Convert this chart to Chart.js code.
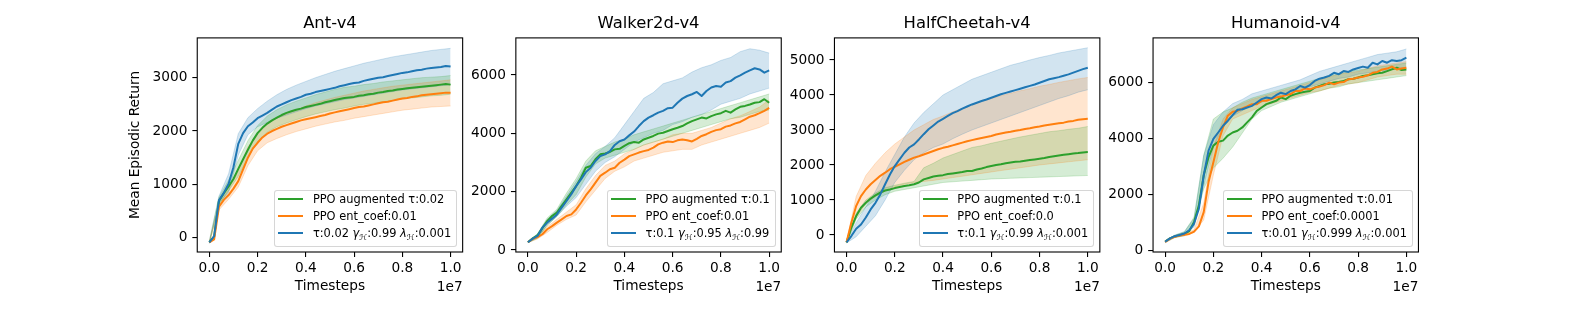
<!DOCTYPE html>
<html><head><meta charset="utf-8">
<script src="https://cdn.jsdelivr.net/npm/chart.js@4.4.0/dist/chart.umd.min.js"></script>
<style>
html,body{margin:0;padding:0;background:#fff;}
#wrap{position:relative;width:1578px;height:316px;overflow:hidden;background:#fff;}
canvas.cv{position:absolute;left:0;top:0;}
.legend{position:absolute;font-family:"DejaVu Sans",sans-serif;font-size:11.4px;color:#000;background:rgba(255,255,255,0.8);border:1px solid rgba(204,204,204,0.8);border-radius:3px;padding:0 5px 4.3px 3.3px;white-space:nowrap;}
.row{display:flex;align-items:center;height:16.8px;}
.hd{width:25px;height:2px;margin-right:9.4px;flex:none;}
.sub{font-size:8px;position:relative;top:3px;}
</style></head><body><div id="wrap"></div><script>
// ---------- DATA ----------
const titles = ['Ant-v4', 'Walker2d-v4', 'HalfCheetah-v4', 'Humanoid-v4'];
const xTitle = 'Timesteps';
const yTitle = 'Mean Episodic Return';
const xOffsetLabel = '1e7';
const xTickValues = [0, 0.2, 0.4, 0.6, 0.8, 1.0];
const xTickLabels = ['0.0', '0.2', '0.4', '0.6', '0.8', '1.0'];
const steps = [0,0.02,0.04,0.06,0.08,0.1,0.12,0.14,0.16,0.18,0.2,0.22,0.24,0.26,0.28,0.3,0.32,0.34,0.36,0.38,0.4,0.42,0.44,0.46,0.48,0.5,0.52,0.54,0.56,0.58,0.6,0.62,0.64,0.66,0.68,0.7,0.72,0.74,0.76,0.78,0.8,0.82,0.84,0.86,0.88,0.9,0.92,0.94,0.96,0.98,1];
const bandSteps = [0,0.04,0.08,0.12,0.16,0.2,0.24,0.28,0.32,0.36,0.4,0.44,0.48,0.52,0.56,0.6,0.64,0.68,0.72,0.76,0.8,0.84,0.88,0.92,0.96,1];

// Ant-v4
const antYTicks = [0, 1000, 2000, 3000];
const antLabels = ['PPO augmented τ:0.02', 'PPO ent_coef:0.01', 'τ:0.02 γ_ℋ:0.99 λ_ℋ:0.001'];
const antGreen = [-86,20,690,830,960,1100,1290,1470,1650,1820,1960,2060,2140,2200,2250,2300,2340,2370,2400,2420,2450,2470,2490,2510,2540,2560,2580,2600,2620,2630,2640,2660,2670,2690,2700,2720,2730,2750,2760,2780,2790,2800,2810,2820,2830,2840,2850,2860,2870,2880,2870];
const antOrange = [-86,-30,580,710,800,920,1060,1280,1500,1670,1780,1880,1950,2000,2040,2080,2110,2140,2170,2200,2220,2240,2260,2280,2300,2330,2350,2370,2390,2410,2430,2450,2460,2480,2500,2520,2540,2550,2570,2590,2610,2620,2640,2650,2670,2680,2690,2700,2710,2720,2720];
const antBlue = [-86,30,700,840,1010,1320,1760,1960,2090,2160,2240,2290,2340,2400,2460,2500,2540,2580,2610,2640,2680,2700,2730,2750,2770,2790,2810,2840,2860,2880,2900,2910,2940,2960,2980,3000,3010,3030,3050,3070,3090,3100,3120,3140,3150,3170,3180,3190,3200,3220,3210];
const antGreenLo = [-100,620,880,1150,1500,1800,1980,2080,2150,2210,2270,2320,2360,2400,2430,2470,2500,2520,2550,2570,2600,2620,2640,2660,2670,2690];
const antGreenHi = [-70,760,1080,1450,1820,2100,2280,2400,2490,2560,2620,2680,2730,2780,2820,2840,2870,2890,2920,2940,2960,2980,3000,3010,3020,3040];
const antOrangeLo = [-100,520,720,950,1350,1630,1780,1860,1930,1990,2040,2090,2130,2170,2200,2240,2270,2300,2330,2360,2390,2410,2430,2450,2460,2470];
const antOrangeHi = [-70,650,900,1250,1700,1950,2130,2240,2320,2400,2470,2530,2580,2630,2670,2710,2750,2780,2810,2840,2860,2880,2900,2920,2940,2960];
const antBlueLo = [-110,640,850,1550,1930,2080,2160,2240,2300,2360,2420,2470,2510,2550,2590,2620,2650,2680,2710,2740,2770,2790,2810,2830,2850,2870];
const antBlueHi = [-60,780,1200,1950,2250,2420,2560,2680,2780,2860,2930,3000,3060,3120,3170,3220,3270,3310,3350,3390,3420,3450,3480,3510,3530,3550];

// Walker2d-v4
const walkerYTicks = [0, 2000, 4000, 6000];
const walkerLabels = ['PPO augmented τ:0.1', 'PPO ent_coef:0.01', 'τ:0.1 γ_ℋ:0.95 λ_ℋ:0.99'];
const walkerGreen = [265,400,500,750,990,1165,1280,1510,1740,1970,2190,2480,2820,2880,3110,3280,3310,3360,3450,3470,3570,3660,3700,3680,3790,3850,3910,3990,4020,4080,4140,4190,4250,4340,4420,4480,4540,4510,4590,4650,4690,4770,4710,4820,4910,4940,4990,5050,5070,5170,5050];
const walkerOrange = [265,380,440,540,710,820,940,1050,1165,1220,1390,1620,1870,2080,2310,2540,2650,2770,2820,2990,3100,3220,3280,3340,3390,3430,3510,3620,3680,3720,3700,3760,3790,3760,3720,3810,3910,3970,4050,4110,4140,4230,4270,4340,4390,4480,4570,4620,4690,4770,4870];
const walkerBlue = [265,390,480,765,940,1075,1220,1450,1680,1910,2190,2420,2670,2820,3050,3220,3280,3390,3600,3730,3790,3930,4060,4250,4420,4540,4620,4710,4770,4860,4880,5050,5190,5280,5340,5420,5280,5450,5570,5620,5600,5740,5790,5910,5990,6080,6160,6230,6190,6080,6160];
const walkerGreenLo = [250,400,850,1150,1550,1900,2500,2950,3150,3250,3350,3450,3600,3700,3800,3900,4000,4100,4200,4300,4400,4500,4550,4650,4750,4800];
const walkerGreenHi = [280,560,1100,1400,1950,2450,3050,3400,3550,3700,3800,3950,4050,4150,4250,4350,4450,4550,4650,4750,4850,4950,5050,5150,5250,5350];
const walkerOrangeLo = [250,380,600,850,1050,1200,1650,2050,2450,2700,2850,3050,3150,3250,3350,3400,3450,3450,3600,3700,3800,3900,4000,4100,4200,4350];
const walkerOrangeHi = [280,500,800,1050,1300,1550,2100,2550,2900,3050,3300,3450,3600,3700,3800,3950,4000,4000,4100,4200,4350,4500,4600,4750,4900,5150];
const walkerBlueLo = [250,420,850,1150,1500,1800,2250,2700,3000,3200,3450,3700,3850,4000,4100,4300,4400,4550,4650,4800,5000,5100,5200,5350,5450,5550];
const walkerBlueHi = [280,560,1050,1350,1850,2350,2900,3300,3550,3850,4300,4750,5200,5400,5700,5800,5900,6100,6250,6350,6500,6600,6800,6900,6850,6750];

// HalfCheetah-v4
const cheetahYTicks = [0, 1000, 2000, 3000, 4000, 5000];
const cheetahLabels = ['PPO augmented τ:0.1', 'PPO ent_coef:0.0', 'τ:0.1 γ_ℋ:0.99 λ_ℋ:0.001'];
const cheetahGreen = [-210,210,540,780,920,1040,1130,1210,1270,1300,1340,1370,1400,1420,1450,1500,1590,1630,1670,1690,1710,1740,1760,1780,1800,1830,1830,1870,1900,1940,1970,2000,2020,2050,2070,2090,2100,2120,2140,2160,2180,2200,2230,2250,2270,2290,2310,2330,2340,2360,2370];
const cheetahOrange = [-210,350,830,1110,1300,1450,1570,1690,1780,1880,1950,2020,2090,2150,2210,2250,2300,2350,2400,2450,2490,2520,2560,2600,2640,2680,2710,2740,2770,2800,2830,2870,2900,2930,2950,2980,3000,3030,3050,3080,3100,3130,3150,3170,3190,3210,3240,3260,3290,3310,3320];
const cheetahBlue = [-210,-30,180,300,500,730,920,1160,1450,1730,1970,2160,2350,2500,2590,2730,2880,3020,3130,3240,3320,3400,3480,3540,3610,3670,3730,3780,3830,3870,3920,3970,4020,4060,4100,4140,4180,4220,4260,4300,4350,4400,4450,4480,4510,4550,4590,4640,4690,4740,4780];
const cheetahGreenLo = [-230,450,800,1000,1150,1250,1300,1350,1400,1450,1500,1520,1540,1560,1580,1600,1610,1620,1630,1640,1650,1660,1670,1680,1690,1700];
const cheetahGreenHi = [-190,620,1000,1200,1350,1420,1480,1530,1920,2050,2200,2300,2400,2500,2550,2620,2680,2740,2800,2850,2900,2950,2980,3020,3050,3100];
const cheetahOrangeLo = [-230,500,900,1100,1250,1380,1450,1500,1530,1560,1600,1640,1680,1720,1760,1800,1840,1880,1920,1960,2000,2030,2060,2090,2120,2150];
const cheetahOrangeHi = [-190,1100,1700,2050,2350,2600,2800,3000,3150,3300,3400,3520,3620,3720,3820,3900,3980,4050,4120,4180,4250,4300,4360,4410,4460,4500];
const cheetahBlueLo = [-230,-50,250,550,1000,1500,1850,2150,2350,2500,2600,2750,2880,3000,3100,3200,3300,3400,3500,3600,3700,3800,3900,3980,4080,4150];
const cheetahBlueHi = [-190,350,800,1250,1800,2300,2800,3200,3500,3750,4000,4150,4300,4450,4550,4650,4750,4850,4920,5000,5070,5130,5200,5250,5300,5350];

// Humanoid-v4
const humanoidYTicks = [0, 2000, 4000, 6000];
const humanoidLabels = ['PPO augmented τ:0.01', 'PPO ent_coef:0.0001', 'τ:0.01 γ_ℋ:0.999 λ_ℋ:0.001'];
const humanoidGreen = [330,440,510,550,600,700,1030,1620,2690,3340,3750,3890,3930,4110,4220,4280,4400,4580,4760,4990,5110,5230,5290,5350,5470,5410,5530,5590,5640,5670,5700,5820,5880,5940,5960,6000,6020,6060,6120,6140,6180,6240,6260,6300,6330,6350,6410,6470,6530,6450,6470];
const humanoidOrange = [310,430,500,540,570,600,680,870,1380,2450,3160,3870,4400,4820,4960,4990,5080,5150,5230,5230,5350,5350,5410,5470,5500,5550,5590,5700,5700,5790,5760,5820,5860,5910,6000,5940,6000,6020,6120,6140,6180,6210,6260,6350,6380,6470,6500,6570,6470,6500,6530];
const humanoidBlue = [320,440,520,560,615,730,970,1500,2690,3570,3990,4220,4460,4640,4840,5030,5050,5110,5170,5290,5410,5470,5430,5550,5640,5590,5700,5760,5880,5820,5910,6060,6140,6180,6240,6350,6300,6410,6380,6470,6520,6570,6530,6710,6650,6770,6710,6800,6770,6800,6890];
const humanoidGreenLo = [300,470,540,900,2200,2950,3300,3700,4200,4700,5000,5150,5300,5400,5500,5600,5700,5800,5850,5950,6000,6050,6100,6150,6200,6250];
const humanoidGreenHi = [360,550,680,1200,3400,4700,4950,5100,5300,5450,5550,5650,5750,5850,5950,6050,6150,6250,6300,6400,6450,6500,6550,6600,6650,6700];
const humanoidOrangeLo = [280,470,530,650,1100,2700,4100,4700,4850,5000,5150,5250,5350,5450,5550,5650,5700,5800,5900,5950,6000,6100,6200,6250,6300,6300];
const humanoidOrangeHi = [340,540,620,750,1700,3700,4700,5100,5250,5400,5500,5600,5700,5800,5900,6000,6100,6200,6300,6350,6400,6500,6600,6650,6700,6750];
const humanoidBlueLo = [290,480,540,850,2300,3700,4400,4800,5000,5200,5300,5450,5550,5650,5750,5850,5950,6050,6150,6200,6300,6350,6400,6450,6500,6550];
const humanoidBlueHi = [350,560,680,1150,3400,4500,4950,5250,5400,5600,5700,5800,5900,6000,6100,6250,6400,6500,6600,6700,6800,6900,7000,7050,7100,7200];

// axis extents
const yRanges = [[-268, 3746], [-69, 7272], [-486, 5631], [-45, 7595]];

// ---------- RENDER ----------
const colors = ['#2ca02c', '#ff7f0e', '#1f77b4'];
const FONT = '"DejaVu Sans", "Liberation Sans", sans-serif';
const G = {left0: 197.25, pitch: 318.6, width: 265.4, top: 37.9, bottom: 252, W: 1578, H: 316, YW: 80, XH: 50};

const panels = [
  {yTicks: antYTicks, labels: antLabels, lines: [antGreen, antOrange, antBlue], lo: [antGreenLo, antOrangeLo, antBlueLo], hi: [antGreenHi, antOrangeHi, antBlueHi]},
  {yTicks: walkerYTicks, labels: walkerLabels, lines: [walkerGreen, walkerOrange, walkerBlue], lo: [walkerGreenLo, walkerOrangeLo, walkerBlueLo], hi: [walkerGreenHi, walkerOrangeHi, walkerBlueHi]},
  {yTicks: cheetahYTicks, labels: cheetahLabels, lines: [cheetahGreen, cheetahOrange, cheetahBlue], lo: [cheetahGreenLo, cheetahOrangeLo, cheetahBlueLo], hi: [cheetahGreenHi, cheetahOrangeHi, cheetahBlueHi]},
  {yTicks: humanoidYTicks, labels: humanoidLabels, lines: [humanoidGreen, humanoidOrange, humanoidBlue], lo: [humanoidGreenLo, humanoidOrangeLo, humanoidBlueLo], hi: [humanoidGreenHi, humanoidOrangeHi, humanoidBlueHi]}
];

function rgba(hex, a) { const n = parseInt(hex.slice(1), 16); return `rgba(${n >> 16},${(n >> 8) & 255},${n & 255},${a})`; }
function pts(xs, ys) { return xs.map((x, i) => ({x: x, y: ys[i]})); }

const framePlugin = {id: 'frame', afterDatasetsDraw(chart) {
  const {ctx, chartArea: a} = chart; ctx.save(); ctx.strokeStyle = '#000'; ctx.lineWidth = 1.1;
  ctx.strokeRect(a.left, a.top, a.right - a.left, a.bottom - a.top); ctx.restore(); }};
const offsetPlugin = {id: 'offsetText', afterDraw(chart) {
  const {ctx, chartArea: a} = chart; ctx.save(); ctx.font = `13.7px ${FONT}`; ctx.fillStyle = '#000';
  ctx.textAlign = 'right'; ctx.textBaseline = 'alphabetic'; ctx.fillText(xOffsetLabel, a.right, 291); ctx.restore(); }};

const wrap = document.getElementById('wrap');
const tickFont = {family: FONT, size: 13.7};
const gridOpts = {display: true, drawOnChartArea: false, drawTicks: true, tickLength: 4.9, color: '#000', tickColor: '#000', lineWidth: 1.1};

panels.forEach((p, i) => {
  const L = G.left0 + i * G.pitch, R = L + G.width;
  const cv = document.createElement('canvas');
  cv.className = 'cv'; cv.width = G.W; cv.height = G.H; cv.style.width = G.W + 'px'; cv.style.height = G.H + 'px';
  wrap.appendChild(cv);
  const ds = [];
  for (let k = 0; k < 3; k++) {
    ds.push({label: '_lo', data: pts(bandSteps, p.lo[k]), borderColor: rgba(colors[k], 0.2), borderWidth: 1, pointRadius: 0, fill: false, order: 10 + k});
    ds.push({label: '_hi', data: pts(bandSteps, p.hi[k]), borderColor: rgba(colors[k], 0.2), borderWidth: 1, pointRadius: 0, fill: '-1', backgroundColor: rgba(colors[k], 0.2), order: 10 + k});
  }
  for (let k = 0; k < 3; k++) {
    ds.push({label: p.labels[k].replace(/_ℋ/g, 'ℋ'), data: pts(steps, p.lines[k]), borderColor: colors[k], borderWidth: 2, pointRadius: 0, fill: false, order: 2 - k, borderJoinStyle: 'round', tension: 0});
  }
  const chart = new Chart(cv, {
    type: 'line',
    data: {datasets: ds},
    options: {
      responsive: false, animation: false, events: [], devicePixelRatio: 1,
      layout: {padding: {left: L - G.YW, right: G.W - R, top: 0, bottom: G.H - G.bottom - G.XH}},
      plugins: {
        legend: {display: false}, tooltip: {enabled: false},
        filler: {propagate: false, drawTime: 'beforeDatasetsDraw'},
        title: {display: true, text: titles[i], fullSize: false, color: '#000', font: {family: FONT, size: 16.4, weight: 'normal'}, padding: {top: 13.76, bottom: 4.46}}
      },
      scales: {
        x: {type: 'linear', min: -0.05, max: 1.05,
          afterBuildTicks: s => { s.ticks = xTickValues.map(v => ({value: v})); },
          afterFit: s => { s.height = G.XH; },
          ticks: {font: tickFont, color: '#000', padding: 3.44, maxRotation: 0, autoSkip: false, callback: (v, idx) => xTickLabels[idx]},
          grid: gridOpts, border: {display: false},
          title: {display: true, text: xTitle, color: '#000', font: tickFont, padding: {top: 0, bottom: 7.8}}},
        y: {type: 'linear', min: yRanges[i][0], max: yRanges[i][1],
          afterBuildTicks: s => { s.ticks = p.yTicks.map(v => ({value: v})); },
          afterFit: s => { s.width = G.YW; },
          ticks: {font: tickFont, color: '#000', padding: 5, autoSkip: false, callback: v => String(v)},
          grid: gridOpts, border: {display: false},
          title: {display: i === 0, text: yTitle, color: '#000', font: tickFont, padding: {top: 10.3, bottom: 0}}}
      }
    },
    plugins: [framePlugin, offsetPlugin]
  });
  const leg = document.createElement('div');
  leg.className = 'legend';
  leg.innerHTML = p.labels.map((l, k) => `<div class="row"><span class="hd" style="background:${colors[k]}"></span><span>${l.replace(/([γλ])_ℋ/g, '<i>$1</i><span class="sub">ℋ</span>')}</span></div>`).join('');
  const a = chart.chartArea;
  leg.style.right = (G.W - a.right + 5.5) + 'px';
  leg.style.bottom = (G.H - a.bottom + 5.3) + 'px';
  wrap.appendChild(leg);
});
</script></body></html>
